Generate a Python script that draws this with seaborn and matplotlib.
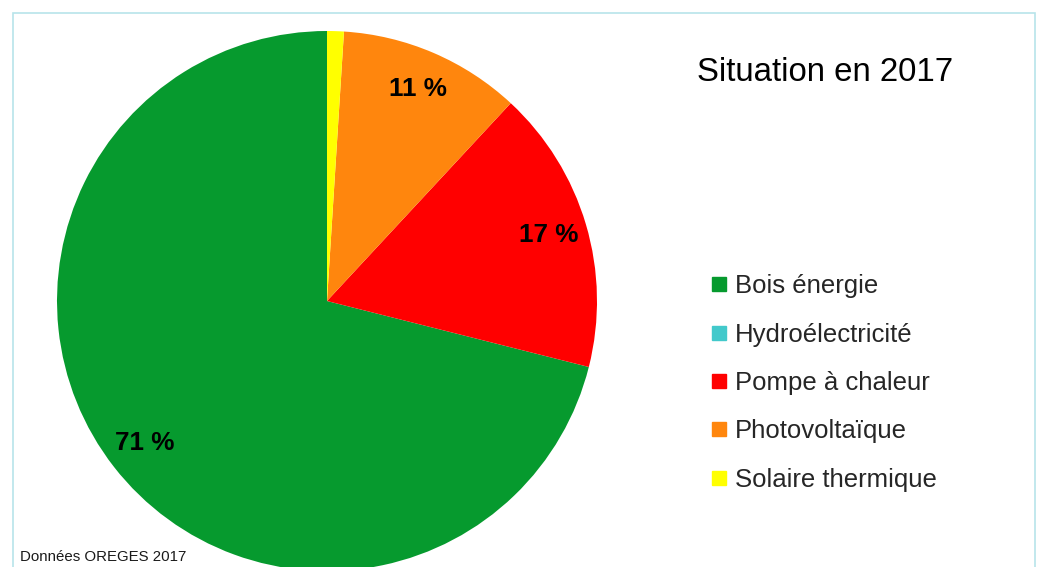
import matplotlib
matplotlib.use("Agg")
import matplotlib.pyplot as plt
from matplotlib.lines import Line2D
from matplotlib.patches import Rectangle
import seaborn as sns

categories = ["Bois énergie", "Hydroélectricité", "Pompe à chaleur", "Photovoltaïque", "Solaire thermique"]
values = [71.0, 0.0, 17.0, 10.9, 1.0]
colors = ["#069A2E", "#42C9CB", "#FF0000", "#FF860D", "#FFFF00"]
title = "Situation en 2017"
source = "Données OREGES 2017"

sns.set_theme(style="white")
plt.rcParams['font.family'] = ['Liberation Sans', 'DejaVu Sans']

W, H = 1044, 567
fig = plt.figure(figsize=(W / 100, H / 100), dpi=100)
fig.patch.set_facecolor("white")
ax = fig.add_axes([0, 0, 1, 1])
ax.set_xlim(0, W)
ax.set_ylim(0, H)
ax.set_aspect("equal")
ax.axis("off")

def fmt(p):
    return f"{p:.0f} %" if p >= 5 else ""

wedges, texts, autotexts = ax.pie(
    values, colors=colors, startangle=90, counterclock=True,
    center=(327, H - 301), radius=270, autopct=fmt, pctdistance=0.855,
    wedgeprops=dict(linewidth=0, antialiased=True),
    textprops=dict(fontsize=18.8, fontweight="bold", color="black"),
)
ax.set_xlim(0, W)
ax.set_ylim(0, H)

fig.text(825 / W, 1 - 73 / H, title, ha="center", va="center", fontsize=23.8, color="black")
fig.text(20 / W, 1 - 557 / H, source, ha="left", va="center", fontsize=10.8, color="#1a1a1a")

handles = [Line2D([0], [0], marker="s", linestyle="", markersize=10,
                  markerfacecolor=c, markeredgecolor=c) for c in colors]
leg = fig.legend(handles, categories, loc="center left",
                 bbox_to_anchor=(711 / W, 1 - 383 / H), frameon=False,
                 fontsize=18.5, labelspacing=0.95, handlelength=0.6,
                 handletextpad=0.33, borderpad=0, borderaxespad=0)

border = Rectangle((13 / W, -0.05), (1035 - 13) / W, (H - 13) / H + 0.05,
                   transform=fig.transFigure, fill=False,
                   edgecolor="#B8E4EA", linewidth=1.2)
fig.add_artist(border)

fig.savefig("out.png", dpi=100, facecolor="white")
